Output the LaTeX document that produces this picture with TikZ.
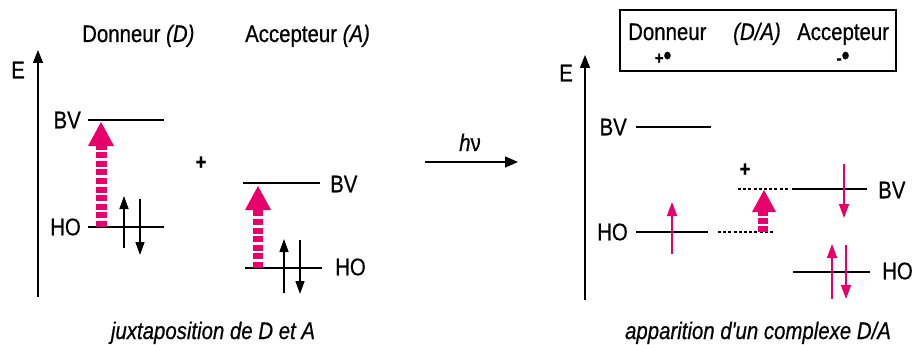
\documentclass[tikz,border=0pt]{standalone}
\usepackage{fontspec}
\setmainfont[FakeStretch=0.85,FakeBold=0.6]{Liberation Sans}
\newfontfamily\apofont[FakeStretch=0.85,FakeBold=0.6]{Liberation Sans}
\usetikzlibrary{arrows.meta}
\definecolor{mypink}{RGB}{232,0,106}
\tikzset{
  lbl/.style={inner sep=0pt, font=\fontsize{24}{28}\selectfont},
  captxt/.style={inner sep=0pt, font=\fontsize{24}{28}\selectfont\itshape},
  smalltxt/.style={inner sep=0pt, font=\fontsize{18}{20}\selectfont\bfseries},
  level/.style={line width=1.5pt},
  dotlevel/.style={line width=1.3pt, dash pattern=on 3pt off 2.2pt},
  axis/.style={line width=1.5pt, -{Triangle[width=10pt,length=13pt]}},
  eblack/.style={line width=1.3pt, -{Triangle[width=9pt,length=13pt]}},
  epink/.style={line width=1.6pt, mypink, -{Triangle[width=10pt,length=14pt]}},
  shaft/.style={line width=10.5pt, mypink, dash pattern=on 6pt off 2.6pt},
  head/.style={fill=mypink, draw=none},
}
\newcommand{\bigdot}{{\fontsize{26}{26}\selectfont •}}
\begin{document}
\begin{tikzpicture}[x=1pt, y=-1pt]
\useasboundingbox (0,0) rectangle (913,345);

% ---------- left panel ----------
\coordinate (Eb1) at (38,297);
\coordinate (Et1) at (38,50);
\draw[axis] (Eb1) -- (Et1);
\node[lbl] (E1) at (18,70) {E};

\node[lbl, anchor=base west] (tD) at (82,42) {Donneur \textit{(D)}};
\node[lbl, anchor=base west] (tA) at (245,42) {Accepteur \textit{(A)}};

% donor levels
\coordinate (dBVa) at (88,120); \coordinate (dBVb) at (164,120);
\coordinate (dHOa) at (88,227); \coordinate (dHOb) at (164,227);
\draw[level] (dBVa) -- (dBVb);
\draw[level] (dHOa) -- (dHOb);
\node[lbl, anchor=east] (dBV) at (81,120) {BV};
\node[lbl, anchor=east] (dHO) at (81,227) {HO};

% donor big arrow
\coordinate (dS0) at (101.5,227); \coordinate (dS1) at (101.5,146);
\draw[shaft] (dS0) -- (dS1);
\coordinate (dH1) at (88,146); \coordinate (dH2) at (114,146); \coordinate (dH3) at (101,122);
\fill[head] (dH1) -- (dH2) -- (dH3) -- cycle;

% donor electrons
\coordinate (de1a) at (124,248); \coordinate (de1b) at (124,196);
\coordinate (de2a) at (140,199); \coordinate (de2b) at (140,255);
\draw[eblack] (de1a) -- (de1b);
\draw[eblack] (de2a) -- (de2b);

\node[lbl, font=\fontsize{22}{26}\selectfont\bfseries] (plus1) at (201,163) {+};

% acceptor levels
\coordinate (aBVa) at (243,183); \coordinate (aBVb) at (320,183);
\coordinate (aHOa) at (245,268); \coordinate (aHOb) at (322,268);
\draw[level] (aBVa) -- (aBVb);
\draw[level] (aHOa) -- (aHOb);
\node[lbl, anchor=west] (aBV) at (330,184) {BV};
\node[lbl, anchor=west] (aHO) at (335,267) {HO};

% acceptor big arrow
\coordinate (aS0) at (258,268); \coordinate (aS1) at (258,210);
\draw[shaft] (aS0) -- (aS1);
\coordinate (aH1) at (245,210); \coordinate (aH2) at (271,210); \coordinate (aH3) at (258,186);
\fill[head] (aH1) -- (aH2) -- (aH3) -- cycle;

% acceptor electrons
\coordinate (ae1a) at (284,293); \coordinate (ae1b) at (284,239);
\coordinate (ae2a) at (300,240); \coordinate (ae2b) at (300,294);
\draw[eblack] (ae1a) -- (ae1b);
\draw[eblack] (ae2a) -- (ae2b);

\node[captxt, anchor=base] (cap1) at (213,339) {juxtaposition de D et A};

% ---------- middle ----------
\coordinate (hv0) at (425,162); \coordinate (hv1) at (518,162);
\draw[line width=1.5pt, -{Triangle[width=11pt,length=13pt]}] (hv0) -- (hv1);
\node[lbl, anchor=base] (hv) at (470,151) {\textit{h}ν};

% ---------- right panel ----------
\node[draw, line width=1.5pt, minimum width=276pt, minimum height=61pt, inner sep=0pt] (box) at (758,40.5) {};
\node[lbl, anchor=base west] (tD2) at (628,40) {Donneur};
\node[lbl, anchor=base west] (tDA) at (733,40) {\textit{(D/A)}};
\node[lbl, anchor=base west] (tA2) at (797,40) {Accepteur};
\node[smalltxt] (rad1) at (663,58) {+\bigdot};
\node[smalltxt] (rad2) at (843,58) {-\bigdot};

\coordinate (Eb2) at (585,300);
\coordinate (Et2) at (585,55);
\draw[axis] (Eb2) -- (Et2);
\node[lbl] (E2) at (566,73) {E};

% donor side
\coordinate (rBVa) at (636,127); \coordinate (rBVb) at (711,127);
\coordinate (rHOa) at (636,232); \coordinate (rHOb) at (708,232);
\draw[level] (rBVa) -- (rBVb);
\draw[level] (rHOa) -- (rHOb);
\node[lbl, anchor=east] (rBV) at (627,127) {BV};
\node[lbl, anchor=east] (rHO) at (628,232) {HO};
\coordinate (rHOc) at (718,232); \coordinate (rHOd) at (774,232);
\draw[dotlevel] (rHOc) -- (rHOd);
\coordinate (re0a) at (672,254); \coordinate (re0b) at (672,202);
\draw[epink] (re0a) -- (re0b);

% complex
\node[lbl, font=\fontsize{22}{26}\selectfont\bfseries] (plus2) at (745,170) {+};
\coordinate (cBVa) at (738,189); \coordinate (cBVb) at (790,189);
\draw[dotlevel] (cBVa) -- (cBVb);
\coordinate (cS0) at (763,232); \coordinate (cS1) at (763,212);
\draw[shaft, dash pattern=on 6pt off 2pt] (cS0) -- (cS1);
\coordinate (cH1) at (752,212); \coordinate (cH2) at (776,212); \coordinate (cH3) at (764,190);
\fill[head] (cH1) -- (cH2) -- (cH3) -- cycle;

% acceptor side
\coordinate (sBVa) at (792,189); \coordinate (sBVb) at (867,189);
\draw[level] (sBVa) -- (sBVb);
\node[lbl, anchor=west] (sBV) at (878,190) {BV};
\coordinate (sHOa) at (793,272); \coordinate (sHOb) at (870,272);
\draw[level] (sHOa) -- (sHOb);
\node[lbl, anchor=west] (sHO) at (882,271) {HO};

\coordinate (se1a) at (844,164); \coordinate (se1b) at (844,218);
\draw[epink] (se1a) -- (se1b);
\coordinate (se2a) at (832,299); \coordinate (se2b) at (832,244);
\draw[epink] (se2a) -- (se2b);
\coordinate (se3a) at (846,245); \coordinate (se3b) at (846,299);
\draw[epink] (se3a) -- (se3b);

\node[captxt, anchor=base] (cap2) at (758,339) {apparition d{\apofont '}un complexe D/A};
\end{tikzpicture}
\end{document}
